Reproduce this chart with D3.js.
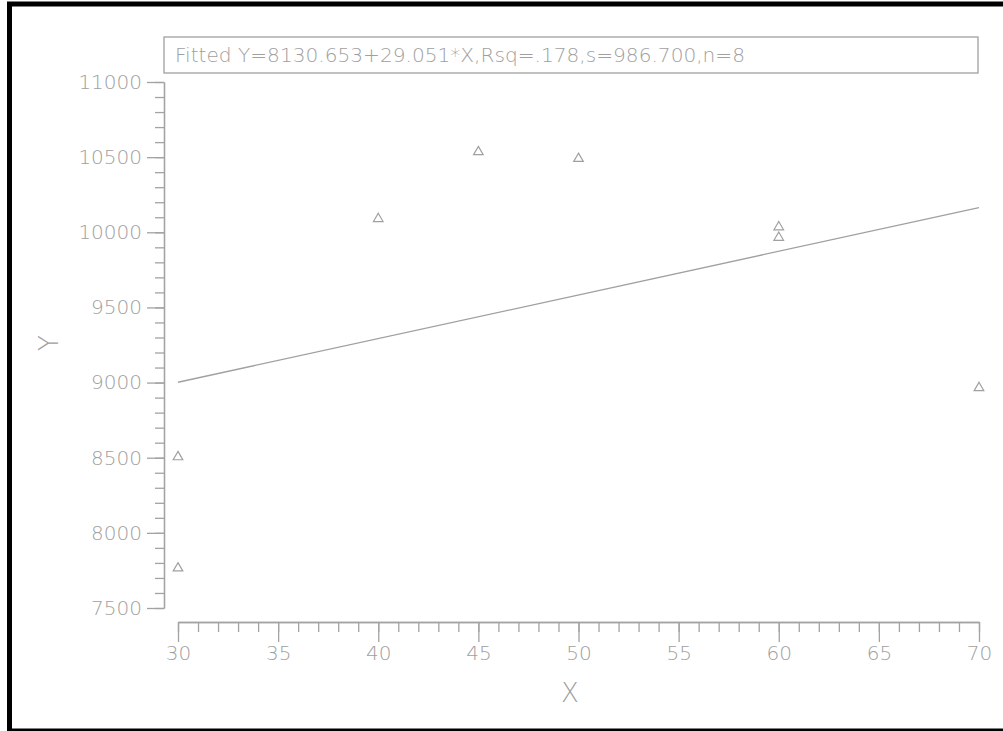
<!DOCTYPE html>
<html lang="en">
<head>
<meta charset="utf-8">
<script src="https://d3js.org/d3.v7.min.js"></script>
<style>
  body { margin: 0; background: #fff; }
  text { font-family: "DejaVu Sans ExtraLight", "DejaVu Sans", sans-serif; font-weight: 200; fill: #a0a0a0; }
  .axis path, .axis line { stroke: #a3a3a3; stroke-width: 1.3; }
</style>
</head>
<body>
<div id="chart"></div>
<script>
// data
var xs = [30, 30, 40, 45, 50, 60, 60, 70];
var ys = [7765, 8505, 10090, 10535, 10490, 10035, 9965, 8965];
var fit = [8130.653, 29.051];   // intercept, slope
var fitText = "Fitted Y=8130.653+29.051*X,Rsq=.178,s=986.700,n=8";
var xMajor = [30, 35, 40, 45, 50, 55, 60, 65, 70];
var yMajor = [7500, 8000, 8500, 9000, 9500, 10000, 10500, 11000];

var width = 1003, height = 731;
var grey = "#a0a0a0";

var svg = d3.select("#chart").append("svg")
  .attr("width", width).attr("height", height);

// black frame (right edge falls outside the picture)
svg.append("rect")
  .attr("x", 9.5).attr("y", 4)
  .attr("width", 1010).attr("height", 727)
  .attr("fill", "none").attr("stroke", "#000").attr("stroke-width", 5);

var x = d3.scaleLinear().domain([30, 70]).range([178, 979]);
var y = d3.scaleLinear().domain([7500, 11000]).range([608, 82]);

// y axis: minor then major
svg.append("g").attr("class", "axis")
  .attr("transform", "translate(164,0)")
  .call(d3.axisLeft(y).tickValues(d3.range(7500, 11001, 100))
    .tickSize(9).tickSizeOuter(0).tickFormat(""));
svg.append("g").attr("class", "axis")
  .attr("transform", "translate(164,0)")
  .call(d3.axisLeft(y).tickValues(yMajor).tickSize(17).tickSizeOuter(0)
    .tickPadding(5).tickFormat(d3.format("d")))
  .call(function(g) { g.selectAll("text").style("font-size", "20px").attr("fill", grey); });

// x axis
svg.append("g").attr("class", "axis")
  .attr("transform", "translate(0,622)")
  .call(d3.axisBottom(x).tickValues(d3.range(30, 71, 1))
    .tickSize(10).tickSizeOuter(0).tickFormat(""));
svg.append("g").attr("class", "axis")
  .attr("transform", "translate(0,622)")
  .call(d3.axisBottom(x).tickValues(xMajor).tickSize(20).tickSizeOuter(0)
    .tickPadding(4).tickFormat(d3.format("d")))
  .call(function(g) { g.selectAll("text").style("font-size", "20px").attr("fill", grey); });

svg.selectAll(".axis .domain").attr("stroke", grey);

// axis titles
svg.append("text")
  .attr("x", 570).attr("y", 702)
  .attr("text-anchor", "middle")
  .style("font-size", "26px")
  .text("X");
svg.append("text")
  .attr("transform", "translate(58,343) rotate(-90)")
  .attr("text-anchor", "middle")
  .style("font-size", "26px")
  .text("Y");

// fitted line
svg.append("line")
  .attr("x1", x(30)).attr("y1", y(fit[0] + fit[1] * 30))
  .attr("x2", x(70)).attr("y2", y(fit[0] + fit[1] * 70))
  .attr("stroke", grey).attr("stroke-width", 1.3);

// points
svg.append("g").selectAll("path")
  .data(xs)
  .enter().append("path")
  .attr("d", d3.symbol(d3.symbolTriangle, 40))
  .attr("transform", function(d, i) { return "translate(" + x(d) + "," + y(ys[i]) + ")"; })
  .attr("fill", "none")
  .attr("stroke", grey)
  .attr("stroke-width", 1.2);

// legend box
svg.append("rect")
  .attr("x", 164).attr("y", 37)
  .attr("width", 814).attr("height", 36)
  .attr("fill", "none").attr("stroke", grey).attr("stroke-width", 1.3);
svg.append("text")
  .attr("x", 175).attr("y", 62)
  .attr("textLength", 570).attr("lengthAdjust", "spacingAndGlyphs")
  .style("font-size", "19px")
  .text(fitText);
</script>
</body>
</html>
